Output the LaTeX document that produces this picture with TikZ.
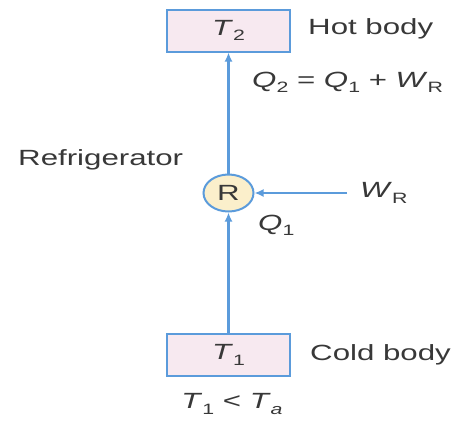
\documentclass[tikz,border=0pt]{standalone}
\usepackage{fontspec}
\setmainfont{Liberation Sans}
\usepackage{graphicx}
\usetikzlibrary{arrows.meta,shapes.geometric}
\definecolor{lineblue}{HTML}{5B9BDB}
\definecolor{boxpink}{HTML}{F7E9F0}
\definecolor{rfill}{HTML}{FBEFCB}
\definecolor{txt}{HTML}{383838}
\newcommand{\wt}[1]{\scalebox{1.42}[1]{#1}}
\newcommand{\vr}[2]{\textit{#1}\raisebox{-0.45ex}{\fontsize{15}{15}\selectfont #2}}
\begin{document}
\begin{tikzpicture}[x=1pt,y=-1pt,
  body/.style={draw=lineblue, fill=boxpink, line width=2pt, minimum width=123pt, minimum height=42pt, inner sep=0pt, text=txt, font=\fontsize{22}{24}\selectfont},
  lbl/.style={text=txt, font=\fontsize{22}{24}\selectfont, inner sep=0pt},
  refr/.style={ellipse, draw=lineblue, fill=rfill, line width=2pt, minimum width=50pt, minimum height=37pt, inner sep=0pt, text=txt, font=\fontsize{22}{24}\selectfont},
  flow/.style={draw=lineblue, line width=2.2pt, -{Latex[length=9pt,width=8pt]}}
]
\useasboundingbox (0,0) rectangle (465,421);
\node[body] (hot) at (228.5,30.5) {\wt{\vr{T}{2}}};
\node[body] (cold) at (228.5,355) {\wt{\vr{T}{1}}};
\node[refr] (r) at (228.5,193) {\wt{R}};
\node[lbl, anchor=west] (hotlbl) at (308,29) {\wt{Hot body}};
\node[lbl, anchor=west] (coldlbl) at (310,355) {\wt{Cold body}};
\node[lbl, anchor=west] (reflbl) at (18,160) {\wt{Refrigerator}};
\node[lbl, anchor=west] (q2lbl) at (252,82) {\wt{\vr{Q}{2} = \vr{Q}{1} + \vr{W}{R}}};
\node[lbl, anchor=west] (wrlbl) at (360,193) {\wt{\vr{W}{R}}};
\node[lbl, anchor=west] (q1lbl) at (258,225) {\wt{\vr{Q}{1}}};
\node[lbl] (cond) at (232,404) {\wt{\vr{T}{1} < \textit{T}\raisebox{-0.45ex}{\fontsize{15}{15}\selectfont\itshape a}}};
\coordinate (wstart) at (347,193);
\draw[flow] (r.north) -- (hot.south);
\draw[flow] (cold.north) -- (r.south);
\draw[flow] (wstart) -- (r.east);
\end{tikzpicture}
\end{document}
